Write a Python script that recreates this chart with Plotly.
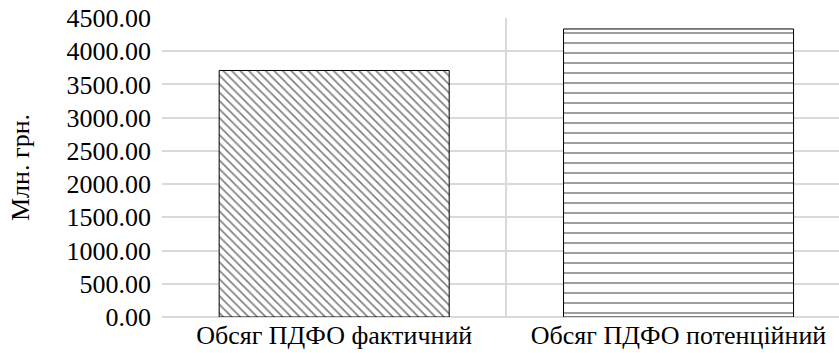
import plotly.graph_objects as go

categories = ["Обсяг ПДФО фактичний", "Обсяг ПДФО потенційний"]
values = [3710, 4335]
y_ticks = [0, 500, 1000, 1500, 2000, 2500, 3000, 3500, 4000, 4500]
y_title = "Млн. грн."

FONT = "Liberation Serif"
FS = 26

fig = go.Figure()
fig.add_trace(go.Bar(
    x=categories,
    y=values,
    width=0.668,
    marker=dict(
        color="white",
        line=dict(color="black", width=1),
        pattern=dict(
            shape=["\\", "-"],
            size=[6, 10],
            solidity=[0.28, 0.15],
            fgcolor="black",
            bgcolor="white",
            fillmode="overlay",
        ),
    ),
    showlegend=False,
))

fig.update_layout(
    width=839,
    height=353,
    margin=dict(l=162, r=0, t=18, b=36),
    paper_bgcolor="white",
    plot_bgcolor="white",
    font=dict(family=FONT, size=FS, color="black"),
    xaxis=dict(
        type="category",
        range=[-0.5, 1.466],
        tickson="boundaries",
        automargin=False,
        showgrid=True,
        gridcolor="#d9d9d9",
        gridwidth=1.5,
        ticks="",
        showline=False,
        zeroline=False,
        ticklabelstandoff=0,
        ticklabeloverflow="allow",
        tickfont=dict(family=FONT, size=FS),
    ),
    yaxis=dict(
        range=[0, 4500],
        tickvals=y_ticks,
        ticktext=[f"{v:.2f}" for v in y_ticks],
        automargin=False,
        showgrid=True,
        gridcolor="#d9d9d9",
        gridwidth=1.5,
        zeroline=True,
        zerolinecolor="#d9d9d9",
        zerolinewidth=1.5,
        ticks="",
        ticklabelstandoff=10,
        ticklabeloverflow="allow",
        tickfont=dict(family=FONT, size=FS),
        title=dict(text=y_title, font=dict(family=FONT, size=FS), standoff=29),
    ),
)

fig.write_html(
    "out.html",
    config={"displayModeBar": False},
    post_script="document.body.style.margin='0';document.body.style.overflow='hidden';",
)
